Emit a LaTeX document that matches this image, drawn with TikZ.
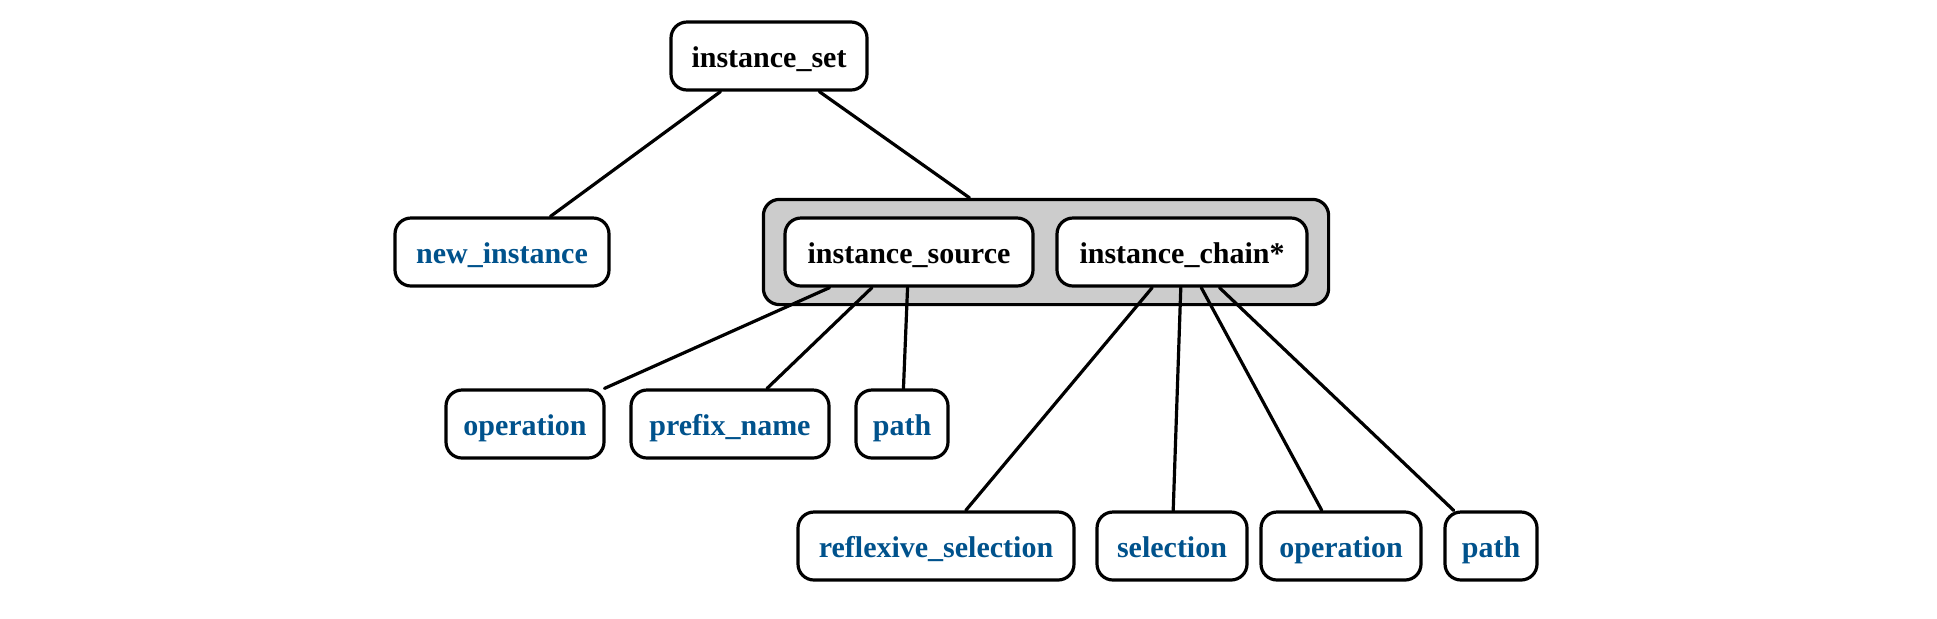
\documentclass[tikz,border=0pt]{standalone}
\usepackage{fontspec}
\setmainfont{Liberation Serif}
\usepackage{xcolor}
\usepackage{tikz}
\usetikzlibrary{positioning,fit,backgrounds}
\newcommand{\gtfont}{\bfseries\fontsize{15}{18}\selectfont}
\definecolor{gtInk}{RGB}{0,0,0}
\definecolor{gtBlue}{RGB}{0,82,140}
\definecolor{gtGroupFill}{RGB}{204,204,204}
\tikzset{
  gtBox/.style={draw=gtInk, rounded corners=8pt, line width=1.6pt,
    align=center, fill=white, font=\gtfont, text=gtInk,
    minimum height=34pt, inner sep=2pt,
    text height=12.5pt, text depth=1.5pt},
  gtLeaf/.style={gtBox, text=gtBlue},
  gtGroup/.style={draw=gtInk, rounded corners=8pt, line width=1.6pt,
    fill=gtGroupFill, inner xsep=10pt, inner ysep=8.5pt},
  gtEdge/.style={line width=1.6pt, draw=gtInk, line cap=round}
}
\begin{document}
\begin{tikzpicture}[x=0.5pt,y=-0.5pt]
\useasboundingbox (0,0) rectangle (1937,618);
% top
\node[gtBox,minimum width=98pt] (iset) at (769,56) {instance\_set};
% second row
\node[gtLeaf,minimum width=107pt] (newinst) at (502,252) {new\_instance};
\node[gtBox,minimum width=124pt] (isrc) at (909,252) {instance\_source};
\node[gtBox,minimum width=125pt] (ichain) at (1182,252) {instance\_chain*};
\begin{scope}[on background layer]
\node[gtGroup,fit=(isrc)(ichain)] (grp) {};
\end{scope}
% third row
\node[gtLeaf,minimum width=79pt] (srcop) at (525,424) {operation};
\node[gtLeaf,minimum width=99pt] (srcpfx) at (730,424) {prefix\_name};
\node[gtLeaf,minimum width=46pt] (srcpath) at (902,424) {path};
% bottom row
\node[gtLeaf,minimum width=138pt] (chrefl) at (936,546) {reflexive\_selection};
\node[gtLeaf,minimum width=75pt] (chsel) at (1172,546) {selection};
\node[gtLeaf,minimum width=80pt] (chop) at (1341,546) {operation};
\node[gtLeaf,minimum width=46pt] (chpath) at (1491,546) {path};
% connectors
\draw[gtEdge] (iset) -- (newinst);
\draw[gtEdge] (iset) -- (grp);
\draw[gtEdge] (isrc) -- (srcop);
\draw[gtEdge] (isrc) -- (srcpfx);
\draw[gtEdge] (isrc) -- (srcpath);
\draw[gtEdge] (ichain) -- (chrefl);
\draw[gtEdge] (ichain) -- (chsel);
\draw[gtEdge] (ichain) -- (chop);
\draw[gtEdge] (ichain) -- (chpath);
\end{tikzpicture}
\end{document}
